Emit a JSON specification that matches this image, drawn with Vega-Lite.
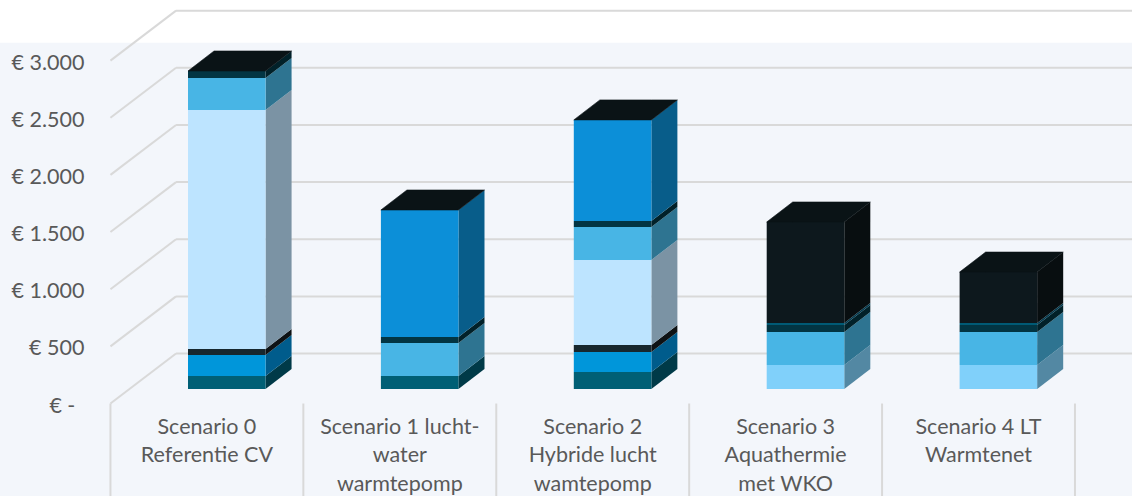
{
  "$schema": "https://vega.github.io/schema/vega-lite/v6.json",
  "width": 1132,
  "height": 496,
  "padding": 0,
  "autosize": {"type": "none"},
  "background": "#ffffff",
  "view": {"stroke": null},
  "params": [
    {"name": "barWidth", "value": 0.402},
    {"name": "barDepthX", "value": 0.135},
    {"name": "barDepthY", "value": 175},
    {"name": "floorInset", "value": 127},
    {"name": "wallFrontX", "value": -0.402},
    {"name": "wallBackX", "value": -0.062},
    {"name": "wallDepthY", "value": 437}
  ],
  "datasets": {
    "costs": [
      {"index": 0, "serie": 1, "amount": 114},
      {"index": 0, "serie": 2, "amount": 184},
      {"index": 0, "serie": 4, "amount": 52},
      {"index": 0, "serie": 5, "amount": 2091},
      {"index": 0, "serie": 6, "amount": 280},
      {"index": 0, "serie": 7, "amount": 61},
      {"index": 1, "serie": 1, "amount": 114},
      {"index": 1, "serie": 6, "amount": 289},
      {"index": 1, "serie": 7, "amount": 52},
      {"index": 1, "serie": 9, "amount": 1111},
      {"index": 2, "serie": 1, "amount": 149},
      {"index": 2, "serie": 2, "amount": 175},
      {"index": 2, "serie": 4, "amount": 61},
      {"index": 2, "serie": 5, "amount": 744},
      {"index": 2, "serie": 6, "amount": 289},
      {"index": 2, "serie": 7, "amount": 52},
      {"index": 2, "serie": 9, "amount": 884},
      {"index": 3, "serie": 3, "amount": 210},
      {"index": 3, "serie": 6, "amount": 289},
      {"index": 3, "serie": 7, "amount": 61},
      {"index": 3, "serie": 8, "amount": 17},
      {"index": 3, "serie": 10, "amount": 884},
      {"index": 4, "serie": 3, "amount": 210},
      {"index": 4, "serie": 6, "amount": 289},
      {"index": 4, "serie": 7, "amount": 61},
      {"index": 4, "serie": 8, "amount": 17},
      {"index": 4, "serie": 10, "amount": 446}
    ],
    "scenarios": [
      {"index": 0, "label": "Scenario 0\nReferentie CV"},
      {"index": 1, "label": "Scenario 1 lucht-\nwater\nwarmtepomp"},
      {"index": 2, "label": "Scenario 2\nHybride lucht\nwamtepomp"},
      {"index": 3, "label": "Scenario 3\nAquathermie\nmet WKO"},
      {"index": 4, "label": "Scenario 4 LT\nWarmtenet"}
    ],
    "levels": [
      {"level": 0, "label": "€ -"},
      {"level": 500, "label": "€ 500"},
      {"level": 1000, "label": "€ 1.000"},
      {"level": 1500, "label": "€ 1.500"},
      {"level": 2000, "label": "€ 2.000"},
      {"level": 2500, "label": "€ 2.500"},
      {"level": 3000, "label": "€ 3.000"}
    ],
    "boundaries": [
      {"boundary": 0}, {"boundary": 1}, {"boundary": 2},
      {"boundary": 3}, {"boundary": 4}, {"boundary": 5}
    ]
  },
  "layer": [
    {
      "description": "Light backdrop below the top margin",
      "data": {"values": [{"left": -0.9746, "right": 4.8937, "top": 3155, "bottom": -809}]},
      "mark": {"type": "rect", "color": "#f3f6fb"},
      "encoding": {
        "x": {"field": "left", "type": "quantitative", "axis": null, "scale": {"domain": [-0.9746, 4.8937], "nice": false, "zero": false}},
        "x2": {"field": "right"},
        "y": {"field": "top", "type": "quantitative", "axis": null, "scale": {"domain": [-809, 3530], "nice": false, "zero": false}},
        "y2": {"field": "bottom"}
      }
    },
    {
      "description": "Value labels in euro, right-aligned against the side wall; the dash for zero sits further in",
      "data": {"name": "levels"},
      "transform": [{"calculate": "datum.level === 0 ? -0.584 : -0.537", "as": "labelX"}],
      "mark": {"type": "text", "font": "Lato", "fontSize": 21.5, "color": "#595959", "align": "right", "baseline": "middle", "dy": 3},
      "encoding": {
        "x": {"field": "labelX", "type": "quantitative", "axis": null, "scale": {"domain": [-0.9746, 4.8937], "nice": false, "zero": false}},
        "y": {"field": "level", "type": "quantitative", "axis": null, "scale": {"domain": [-809, 3530], "nice": false, "zero": false}},
        "text": {"field": "label"}
      }
    },
    {
      "description": "Back wall gridlines",
      "data": {"name": "levels"},
      "transform": [{"calculate": "datum.level + wallDepthY", "as": "backLevel"}, {"calculate": "wallBackX", "as": "wallX"}, {"calculate": "4.8937", "as": "endX"}],
      "mark": {"type": "rule", "color": "#d9d9d9", "strokeWidth": 2},
      "encoding": {
        "x": {"field": "wallX", "type": "quantitative", "axis": null, "scale": {"domain": [-0.9746, 4.8937], "nice": false, "zero": false}},
        "x2": {"field": "endX"},
        "y": {"field": "backLevel", "type": "quantitative", "axis": null, "scale": {"domain": [-809, 3530], "nice": false, "zero": false}}
      }
    },
    {
      "description": "Side wall gridlines running from the front plane to the back wall",
      "data": {"name": "levels"},
      "transform": [
        {"calculate": "datum.level + wallDepthY", "as": "backLevel"},
        {"calculate": "wallFrontX", "as": "frontX"},
        {"calculate": "wallBackX", "as": "backX"}
      ],
      "mark": {"type": "rule", "color": "#d9d9d9", "strokeWidth": 2},
      "encoding": {
        "x": {"field": "frontX", "type": "quantitative", "axis": null, "scale": {"domain": [-0.9746, 4.8937], "nice": false, "zero": false}},
        "x2": {"field": "backX"},
        "y": {"field": "level", "type": "quantitative", "axis": null, "scale": {"domain": [-809, 3530], "nice": false, "zero": false}},
        "y2": {"field": "backLevel"}
      }
    },
    {
      "description": "Category separators under the floor",
      "data": {"name": "boundaries"},
      "transform": [
        {"calculate": "wallFrontX + datum.boundary", "as": "sepX"},
        {"calculate": "0", "as": "sepTop"},
        {"calculate": "-809", "as": "sepBottom"}
      ],
      "mark": {"type": "rule", "color": "#d9d9d9", "strokeWidth": 2},
      "encoding": {
        "x": {"field": "sepX", "type": "quantitative", "axis": null, "scale": {"domain": [-0.9746, 4.8937], "nice": false, "zero": false}},
        "y": {"field": "sepTop", "type": "quantitative", "axis": null, "scale": {"domain": [-809, 3530], "nice": false, "zero": false}},
        "y2": {"field": "sepBottom"}
      }
    },
    {
      "description": "Category labels, centred between the separators",
      "data": {"name": "scenarios"},
      "transform": [
        {"calculate": "datum.index + wallFrontX + 0.5", "as": "labelX"},
        {"calculate": "-116", "as": "labelY"}
      ],
      "mark": {"type": "text", "font": "Lato", "fontSize": 21.5, "color": "#595959", "lineBreak": "\n", "lineHeight": 28.5, "baseline": "top", "align": "center"},
      "encoding": {
        "x": {"field": "labelX", "type": "quantitative", "axis": null, "scale": {"domain": [-0.9746, 4.8937], "nice": false, "zero": false}},
        "y": {"field": "labelY", "type": "quantitative", "axis": null, "scale": {"domain": [-809, 3530], "nice": false, "zero": false}},
        "text": {"field": "label"}
      }
    },
    {
      "description": "Stacked blocks: side faces, front faces, then the top cap",
      "data": {"name": "costs"},
      "transform": [
        {"stack": "amount", "groupby": ["index"], "sort": [{"field": "serie", "order": "ascending"}], "as": ["stackLow", "stackHigh"]},
        {"calculate": "datum.stackLow + floorInset", "as": "low"},
        {"calculate": "datum.stackHigh + floorInset", "as": "high"}
      ],
      "resolve": {"scale": {"color": "independent"}},
      "layer": [
        {
          "transform": [
            {"calculate": "[0, 1]", "as": "edge"},
            {"flatten": ["edge"]},
            {"calculate": "datum.index + barWidth + datum.edge * barDepthX", "as": "sideX"},
            {"calculate": "datum.low + datum.edge * barDepthY", "as": "sideLow"},
            {"calculate": "datum.high + datum.edge * barDepthY", "as": "sideHigh"}
          ],
          "mark": {"type": "area", "orient": "vertical", "interpolate": "linear"},
          "encoding": {
            "x": {"field": "sideX", "type": "quantitative", "axis": null, "scale": {"domain": [-0.9746, 4.8937], "nice": false, "zero": false}},
            "y": {"field": "sideLow", "type": "quantitative", "axis": null, "stack": null, "scale": {"domain": [-809, 3530], "nice": false, "zero": false}},
            "y2": {"field": "sideHigh"},
            "detail": {"field": "index"},
            "color": {
              "field": "serie",
              "type": "nominal",
              "legend": null,
              "scale": {
                "domain": [1, 2, 3, 4, 5, 6, 7, 8, 9, 10],
                "range": ["#003a48", "#005c8c", "#5388a3", "#0e1214", "#7b93a4", "#2e7491", "#012129", "#013a4f", "#085d8a", "#080e10"]
              }
            }
          }
        },
        {
          "transform": [
            {"calculate": "datum.index", "as": "frontLeft"},
            {"calculate": "datum.index + barWidth", "as": "frontRight"}
          ],
          "mark": {"type": "rect"},
          "encoding": {
            "x": {"field": "frontLeft", "type": "quantitative", "axis": null, "scale": {"domain": [-0.9746, 4.8937], "nice": false, "zero": false}},
            "x2": {"field": "frontRight"},
            "y": {"field": "low", "type": "quantitative", "axis": null, "scale": {"domain": [-809, 3530], "nice": false, "zero": false}},
            "y2": {"field": "high"},
            "color": {
              "field": "serie",
              "type": "nominal",
              "legend": null,
              "scale": {
                "domain": [1, 2, 3, 4, 5, 6, 7, 8, 9, 10],
                "range": ["#005f75", "#0096da", "#80d0fa", "#17272e", "#bde4ff", "#48b5e5", "#023543", "#005a75", "#0c8fd8", "#0d181d"]
              }
            }
          }
        },
        {
          "transform": [
            {"aggregate": [{"op": "max", "field": "high", "as": "top"}], "groupby": ["index"]},
            {"calculate": "[0, 1, 2, 3]", "as": "corner"},
            {"flatten": ["corner"]},
            {"calculate": "datum.index + (datum.corner === 0 ? 0 : datum.corner === 1 ? barDepthX : datum.corner === 2 ? barWidth : barWidth + barDepthX)", "as": "capX"},
            {"calculate": "datum.corner === 3 ? datum.top + barDepthY : datum.top", "as": "capLow"},
            {"calculate": "datum.corner === 0 ? datum.top : datum.top + barDepthY", "as": "capHigh"}
          ],
          "mark": {"type": "area", "orient": "vertical", "interpolate": "linear", "color": "#0a1316", "stroke": "#0a1316", "strokeWidth": 0.6},
          "encoding": {
            "x": {"field": "capX", "type": "quantitative", "axis": null, "sort": null, "scale": {"domain": [-0.9746, 4.8937], "nice": false, "zero": false}},
            "y": {"field": "capLow", "type": "quantitative", "axis": null, "stack": null, "scale": {"domain": [-809, 3530], "nice": false, "zero": false}},
            "y2": {"field": "capHigh"},
            "detail": {"field": "index"}
          }
        }
      ]
    }
  ]
}
